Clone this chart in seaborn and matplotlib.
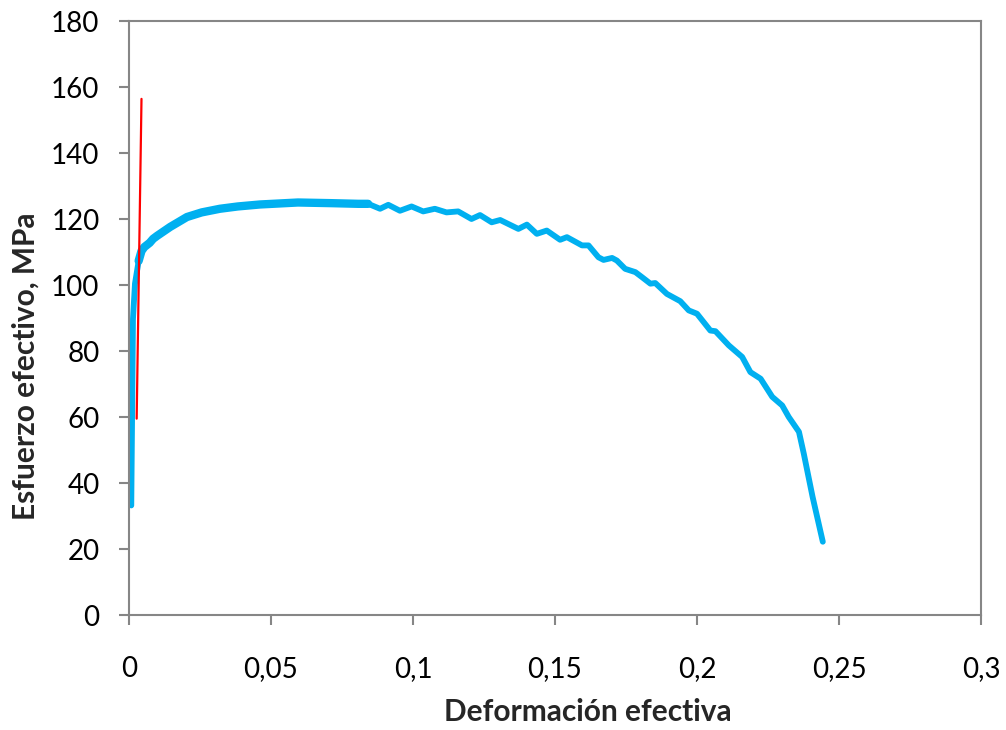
"""
Curva esfuerzo efectivo vs deformacion efectiva.
"""
import numpy as np
import pandas as pd
import matplotlib
matplotlib.use("Agg")
import matplotlib.pyplot as plt
import seaborn as sns

strain = [0.0008, 0.0014, 0.0021, 0.0034, 0.0044, 0.0054, 0.0073, 0.0085,
          0.0099, 0.0145, 0.0204, 0.0256, 0.0320, 0.0383, 0.0461,
          0.0595, 0.0713, 0.0807, 0.0842, 0.0884, 0.0913, 0.0954, 0.0995,
          0.1036, 0.1077, 0.1118, 0.1159, 0.1206, 0.1236, 0.1277, 0.1307,
          0.1371, 0.1401, 0.1436, 0.1471, 0.1518, 0.1542, 0.1595, 0.1618,
          0.1653, 0.1671, 0.1701, 0.1718, 0.1747, 0.1783, 0.1806, 0.1836,
          0.1853, 0.1894, 0.1941, 0.1971, 0.2000, 0.2047, 0.2065, 0.2112,
          0.2159, 0.2188, 0.2224, 0.2265, 0.2300, 0.2323, 0.2359, 0.2376,
          0.2407, 0.2443]
stress = [33.2, 89.7, 100.4, 107.3, 110.3, 111.5, 112.8, 114.0,
          114.9, 117.6, 120.6, 122.0, 123.1, 123.8, 124.4,
          125.0, 124.8, 124.6, 124.6, 123.1, 124.3, 122.5, 123.8,
          122.3, 123.1, 122.0, 122.3, 120.0, 121.2, 119.0, 119.7,
          117.0, 118.3, 115.5, 116.5, 113.7, 114.5, 112.0, 112.0,
          108.4, 107.6, 108.2, 107.4, 104.9, 103.9, 102.4, 100.4,
          100.6, 97.3, 95.1, 92.3, 91.3, 86.2, 86.0, 81.7,
          78.2, 73.6, 71.6, 66.1, 63.5, 60.0, 55.5, 48.9,
          35.8, 22.2]

# Recta elastica (offset)
offset_strain = [0.0027, 0.0044]
offset_stress = [59.5, 156.4]

x_ticks = [0, 0.05, 0.1, 0.15, 0.2, 0.25, 0.3]
x_labels = ["0", "0,05", "0,1", "0,15", "0,2", "0,25", "0,3"]
y_ticks = list(range(0, 181, 20))

sns.set_style("white")
plt.rcParams['font.family'] = ['Lato', 'DejaVu Sans']

curve = pd.DataFrame({"strain": strain, "stress": stress})
# tramo con ruido de medida (se ve mas grueso)
noisy = curve[(curve["strain"] >= 0.0034) & (curve["strain"] <= 0.085)]
line = pd.DataFrame({"strain": offset_strain, "stress": offset_stress})

fig = plt.figure(figsize=(10.06, 7.30), dpi=100)
ax = fig.add_axes([129 / 1006, 1 - 615 / 730, 852 / 1006, 594 / 730])

grey = "#868686"
blue = "#00B0F0"

sns.lineplot(data=curve, x="strain", y="stress", sort=False, color=blue,
             linewidth=4.2, ax=ax, solid_capstyle="round", solid_joinstyle="round")
sns.lineplot(data=noisy, x="strain", y="stress", sort=False, color=blue,
             linewidth=6.0, ax=ax, solid_capstyle="round", solid_joinstyle="round")
sns.lineplot(data=line, x="strain", y="stress", sort=False, color="#FF0000",
             linewidth=1.6, ax=ax)

ax.set_xlim(0, 0.3)
ax.set_ylim(0, 180)
ax.set_xticks(x_ticks)
ax.set_xticklabels(x_labels)
ax.set_yticks(y_ticks)
ax.grid(False)

for side in ["left", "bottom", "right", "top"]:
    ax.spines[side].set_visible(True)
    ax.spines[side].set_color(grey)
    ax.spines[side].set_linewidth(1.5)

ax.tick_params(axis="both", which="major", direction="out", length=7.2,
               width=1.5, color=grey, labelsize=20, labelcolor="black",
               left=True, bottom=True, right=False, top=False)
ax.tick_params(axis="x", pad=22)
ax.tick_params(axis="y", pad=14)

ax.set_xlabel("Deformación efectiva", fontsize=21.5, fontweight="bold")
ax.set_ylabel("Esfuerzo efectivo, MPa", fontsize=21.5, fontweight="bold")
ax.xaxis.set_label_coords((588 - 129) / 852, -(698 - 615) / 594)
ax.yaxis.set_label_coords(-(129 - 40) / 852, (615 - 366) / 594)

plt.savefig("out.png", dpi=100)
